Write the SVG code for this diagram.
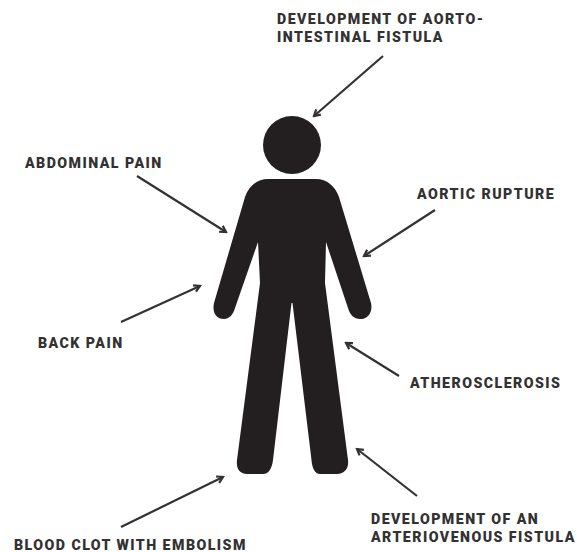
<svg xmlns="http://www.w3.org/2000/svg" width="577" height="552" viewBox="0 0 577 552">
<style>
.l{font-family:Roboto,"Liberation Sans",sans-serif;font-weight:900;font-size:14.2px;letter-spacing:1.45px;fill:#333132}
.c{stroke:#333132;stroke-width:2.2;fill:none;marker-end:url(#a)}
</style>
<defs>
<marker id="a" markerUnits="userSpaceOnUse" markerWidth="12" markerHeight="12" refX="10" refY="6" orient="auto"><path d="M4 2.5L10 6L4 9.5" fill="none" stroke="#333132" stroke-width="2.2"/></marker>
</defs>
<rect width="577" height="552" fill="#fff"/>
<g id="figure" fill="#231f20">
<circle cx="292" cy="145" r="29"/>
<path d="M268 179H316C327 179 335 186 339 197L371 303C373 312 368 319 360 319C354 319 350 315 348 308L326 242L325 283L348 460C349 468 345 474 337 474H320C315 474 312 468 311.500 460L292.500 303H291.500L273 460C272 468 269 474 263 474H247C239 474 236 468 237 460L260 283L258 242L235 308C233 315 229 319 224 319C216 319 212 312 214 303L245 197C249 186 257 179 268 179Z"/>
</g>
<g id="connectors">
<path class="c" d="M383 56L314 116"/>
<path class="c" d="M137 176L226 232"/>
<path class="c" d="M435 210L364 256"/>
<path class="c" d="M121 322L200 286"/>
<path class="c" d="M399 376L346 343"/>
<path class="c" d="M417 496L357 449"/>
<path class="c" d="M121 527L223 477"/>
</g>
<g id="label-aorto"><text class="l" x="277" y="24">DEVELOPMENT OF AORTO-</text><text class="l" x="277" y="42">INTESTINAL FISTULA</text></g>
<g id="label-abdominal"><text class="l" x="25" y="168">ABDOMINAL PAIN</text></g>
<g id="label-rupture"><text class="l" x="417" y="199">AORTIC RUPTURE</text></g>
<g id="label-back"><text class="l" x="38" y="348">BACK PAIN</text></g>
<g id="label-athero"><text class="l" x="410" y="388">ATHEROSCLEROSIS</text></g>
<g id="label-arteriovenous"><text class="l" x="371" y="524">DEVELOPMENT OF AN</text><text class="l" x="371" y="542">ARTERIOVENOUS FISTULA</text></g>
<g id="label-clot"><text class="l" x="14" y="550">BLOOD CLOT WITH EMBOLISM</text></g>
</svg>
